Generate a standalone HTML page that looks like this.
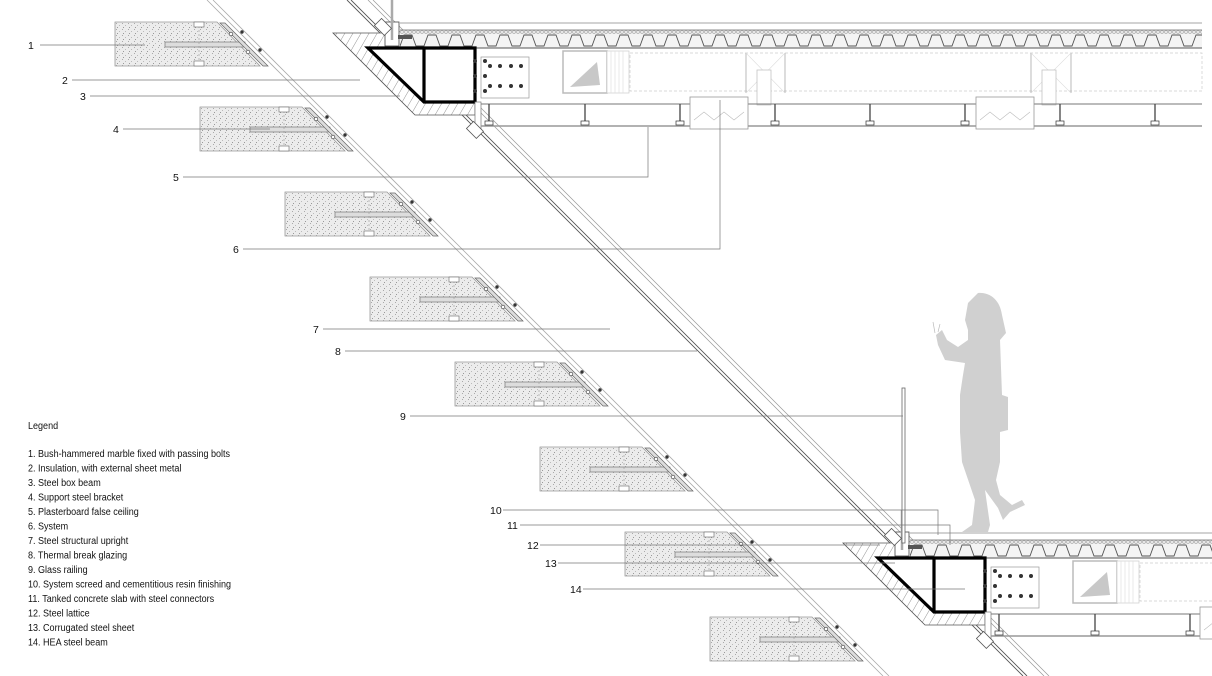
<!DOCTYPE html>
<html><head><meta charset="utf-8"><style>
html,body{margin:0;padding:0;background:#fff}
svg{display:block}
text{font-family:"Liberation Sans Narrow","Liberation Sans",sans-serif;font-size:10.5px;fill:#111}
</style></head><body>
<svg width="1212" height="676" viewBox="0 0 1212 676" xmlns="http://www.w3.org/2000/svg">
<defs>
<pattern id="stip" width="6" height="6" patternUnits="userSpaceOnUse">
<rect width="6" height="6" fill="#ececec"/>
<rect x="1" y="1" width="1" height="1" fill="#aaa"/><rect x="4" y="3" width="1" height="1" fill="#bbb"/><rect x="2" y="5" width="1" height="1" fill="#999"/>
</pattern>
<pattern id="hatch" width="7" height="7" patternUnits="userSpaceOnUse" patternTransform="rotate(30)">
<rect width="7" height="7" fill="#fff"/><line x1="0" y1="0" x2="0" y2="7" stroke="#777" stroke-width="0.8"/>
</pattern>
<pattern id="corr" x="0" y="34" width="24" height="14" patternUnits="userSpaceOnUse">
<rect width="24" height="14" fill="#f4f4f4"/>
<path d="M0,1 L4,1 L8,12 L16,12 L20,1 L24,1" fill="none" stroke="#555" stroke-width="0.9"/>
</pattern>
<pattern id="scr" width="4" height="4" patternUnits="userSpaceOnUse">
<rect width="4" height="4" fill="#e6e6e6"/><path d="M0,0 L4,4 M4,0 L0,4" stroke="#999" stroke-width="0.5"/>
</pattern>
<g id="panel">
<polygon points="0,0 102,0 145,44 0,44" fill="url(#stip)" stroke="#999" stroke-width="0.8"/>
<rect x="50" y="20" width="80" height="5" fill="#ddd" stroke="#777" stroke-width="0.7"/>
<line x1="84" y1="0" x2="84" y2="44" stroke="#999" stroke-width="0.6" stroke-dasharray="2,2"/>
<rect x="79" y="0" width="10" height="5" fill="#fff" stroke="#666" stroke-width="0.6"/>
<rect x="79" y="39" width="10" height="5" fill="#fff" stroke="#666" stroke-width="0.6"/>
<polygon points="105,1 110,1 153,44 148,44" fill="#ddd" stroke="#666" stroke-width="0.7"/>
<circle cx="116" cy="12" r="1.8" fill="#fff" stroke="#333" stroke-width="0.6"/>
<circle cx="133" cy="30" r="1.8" fill="#fff" stroke="#333" stroke-width="0.6"/>
<circle cx="127" cy="10" r="1.7" fill="#333"/>
<circle cx="145" cy="28" r="1.7" fill="#333"/>
</g>
<g id="slab">
<line x1="400" y1="23" x2="1202" y2="23" stroke="#888" stroke-width="0.8"/>
<rect x="400" y="30" width="802" height="5" fill="url(#scr)"/>
<rect x="400" y="34" width="802" height="14" fill="url(#corr)"/>
<line x1="400" y1="30" x2="1202" y2="30" stroke="#666" stroke-width="0.7"/>
<line x1="400" y1="48" x2="1202" y2="48" stroke="#555" stroke-width="0.9"/>
<polygon points="333,33 396,33 396,48 368,48 424,102 475,102 475,115 415,115" fill="url(#hatch)" stroke="#555" stroke-width="0.8"/>
<polygon points="368,48 475,48 475,102 424,102" fill="#fff" stroke="#000" stroke-width="3.2" stroke-linejoin="miter"/>
<line x1="424" y1="48" x2="424" y2="102" stroke="#000" stroke-width="3.2"/>
<rect x="385" y="22" width="14" height="24" fill="#fff" stroke="#444" stroke-width="0.8"/>
<line x1="392" y1="0" x2="392" y2="40" stroke="#aaa" stroke-width="2.5"/>
<rect x="398" y="35" width="14" height="4" fill="#555"/>
<rect x="475" y="102" width="6" height="30" fill="#fff" stroke="#777" stroke-width="0.7"/>
<rect x="481" y="57" width="48" height="41" fill="#fff" stroke="#999" stroke-width="0.7"/>
<g fill="#333"><circle cx="475" cy="61" r="2"/><circle cx="475" cy="76" r="2"/><circle cx="475" cy="91" r="2"/><circle cx="485" cy="61" r="2"/><circle cx="485" cy="76" r="2"/><circle cx="485" cy="91" r="2"/>
<circle cx="490" cy="66" r="2"/><circle cx="500" cy="66" r="2"/><circle cx="511" cy="66" r="2"/><circle cx="521" cy="66" r="2"/><circle cx="490" cy="86" r="2"/><circle cx="500" cy="86" r="2"/><circle cx="511" cy="86" r="2"/><circle cx="521" cy="86" r="2"/></g>
<rect x="563" y="51" width="44" height="42" fill="#fff" stroke="#bbb" stroke-width="1.5"/>
<polygon points="570,87 600,85 597,62" fill="#c8c8c8"/>
<rect x="607" y="51" width="22" height="42" fill="#fff" stroke="#ccc" stroke-width="0.7"/>
<path d="M611,51V93M615,51V93M619,51V93M623,51V93" stroke="#ddd" stroke-width="0.6"/>
<rect x="630" y="53" width="572" height="38" fill="none" stroke="#ccc" stroke-width="0.7" stroke-dasharray="3,2"/>
<path d="M746,53V93M785,53V93M1031,53V93M1071,53V93" stroke="#aaa" stroke-width="0.8"/>
<path d="M746,53L785,93M785,53L746,93M1031,53L1071,93M1071,53L1031,93" stroke="#ddd" stroke-width="0.6"/>
<rect x="757" y="70" width="14" height="35" fill="#fff" stroke="#bbb" stroke-width="0.7"/>
<rect x="1042" y="70" width="14" height="35" fill="#fff" stroke="#bbb" stroke-width="0.7"/>
<line x1="481" y1="104" x2="1202" y2="104" stroke="#777" stroke-width="1"/>
<line x1="481" y1="126" x2="1202" y2="126" stroke="#999" stroke-width="1.5"/>
<rect x="690" y="97" width="58" height="32" fill="#fff" stroke="#999" stroke-width="0.8"/>
<path d="M694,120L704,112L714,120L724,112L734,120L744,112" fill="none" stroke="#bbb" stroke-width="0.6"/>
<rect x="976" y="97" width="58" height="32" fill="#fff" stroke="#999" stroke-width="0.8"/>
<path d="M980,120L990,112L1000,120L1010,112L1020,120L1030,112" fill="none" stroke="#bbb" stroke-width="0.6"/>
<g stroke="#444" stroke-width="1.3">
<path d="M489,104V122M585,104V122M680,104V122M775,104V122M870,104V122M965,104V122M1060,104V122M1155,104V122"/></g>
<g fill="#fff" stroke="#333" stroke-width="0.7">
<rect x="485" y="121" width="8" height="4"/><rect x="581" y="121" width="8" height="4"/><rect x="676" y="121" width="8" height="4"/><rect x="771" y="121" width="8" height="4"/><rect x="866" y="121" width="8" height="4"/><rect x="961" y="121" width="8" height="4"/><rect x="1056" y="121" width="8" height="4"/><rect x="1151" y="121" width="8" height="4"/></g>
<g transform="translate(470,125) rotate(45)"><rect x="0" y="-5" width="14" height="10" fill="#fff" stroke="#555" stroke-width="0.8"/></g>
<g transform="translate(378,22) rotate(45)"><rect x="0" y="-5" width="14" height="10" fill="#fff" stroke="#555" stroke-width="0.8"/></g>
</g>
<clipPath id="clipB"><rect x="0" y="0" width="1212" height="676"/></clipPath>
</defs>

<!-- panel glass pair lines -->
<line x1="207" y1="0" x2="883" y2="676" stroke="#aaa" stroke-width="0.8"/>
<line x1="213" y1="0" x2="889" y2="676" stroke="#aaa" stroke-width="0.8"/>

<!-- marble panels -->
<use href="#panel" x="115" y="22"/>
<use href="#panel" x="200" y="107"/>
<use href="#panel" x="285" y="192"/>
<use href="#panel" x="370" y="277"/>
<use href="#panel" x="455" y="362"/>
<use href="#panel" x="540" y="447"/>
<use href="#panel" x="625" y="532"/>
<use href="#panel" x="710" y="617"/>

<!-- main glazing -->
<g stroke="#555" stroke-width="0.9">
<line x1="347" y1="0" x2="1023" y2="676"/><line x1="351" y1="0" x2="1027" y2="676"/></g>
<g stroke="#999" stroke-width="0.7">
<line x1="368" y1="0" x2="1044" y2="676"/><line x1="373" y1="0" x2="1049" y2="676"/></g>

<use href="#slab"/>
<g clip-path="url(#clipB)"><use href="#slab" x="510" y="510"/></g>

<!-- glass railing -->
<rect x="902" y="388" width="3" height="155" fill="#fff" stroke="#666" stroke-width="0.8"/>

<!-- person -->
<path d="M978,293 C990,292 1000,300 1002,315 L1006,333 L1000,340 L1002,395 L1008,397 L1008,430 L1000,432 L1000,462 L996,480 L1000,495 L1012,505 L1022,500 L1025,505 L1010,512 L1003,520 L998,508 L985,490 L990,525 L988,532 L962,532 L972,525 L975,500 L962,462 L960,432 L960,395 L963,375 L965,363 L945,360 L938,345 L936,335 L942,330 L947,340 L958,347 L968,340 L968,330 L965,320 L968,303 Z" fill="#d0d0d0"/>
<path d="M935,333L933,322M938,332L940,324" stroke="#bbb" stroke-width="0.7"/>

<!-- leaders -->
<g stroke="#777" stroke-width="0.7" fill="none">
<path d="M40,45H145"/><path d="M72,80H360"/><path d="M90,96H400"/><path d="M123,129H270"/>
<path d="M183,177H648V127"/><path d="M243,249H720V100"/>
<path d="M323,329H610"/><path d="M345,351H697"/><path d="M410,416H903"/>
<path d="M503,510H938V535"/><path d="M520,525H950V545"/>
<path d="M540,545H880"/><path d="M558,563H895"/><path d="M583,589H965"/>
</g>
<text x="28" y="49">1</text><text x="62" y="84">2</text><text x="80" y="100">3</text><text x="113" y="133">4</text>
<text x="173" y="181">5</text><text x="233" y="253">6</text><text x="313" y="333">7</text><text x="335" y="355">8</text>
<text x="400" y="420">9</text><text x="490" y="514">10</text><text x="507" y="529">11</text><text x="527" y="549">12</text>
<text x="545" y="567">13</text><text x="570" y="593">14</text>

<!-- legend -->
<g transform="translate(28,0) scale(0.86,1)">
<text x="0" y="429">Legend</text>
<text x="0" y="457">1. Bush-hammered marble fixed with passing bolts</text>
<text x="0" y="471.5">2. Insulation, with external sheet metal</text>
<text x="0" y="486">3. Steel box beam</text>
<text x="0" y="500.5">4. Support steel bracket</text>
<text x="0" y="515">5. Plasterboard false ceiling</text>
<text x="0" y="529.5">6. System</text>
<text x="0" y="544">7. Steel structural upright</text>
<text x="0" y="558.5">8. Thermal break glazing</text>
<text x="0" y="573">9. Glass railing</text>
<text x="0" y="587.5">10. System screed and cementitious resin finishing</text>
<text x="0" y="602">11. Tanked concrete slab with steel connectors</text>
<text x="0" y="616.5">12. Steel lattice</text>
<text x="0" y="631">13. Corrugated steel sheet</text>
<text x="0" y="645.5">14. HEA steel beam</text>
</g>
</svg>
</body></html>
